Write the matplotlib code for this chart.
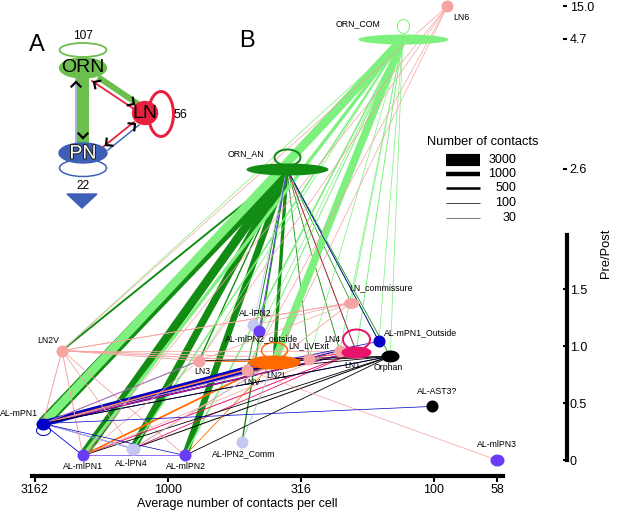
import numpy as np
import matplotlib
matplotlib.use('Agg')
import matplotlib.pyplot as plt
from matplotlib.path import Path
from matplotlib.patches import Ellipse, Polygon
import matplotlib.patheffects as pe

plt.rcParams['font.family'] = ['Liberation Sans', 'DejaVu Sans']

PT = 72 / 100.0   # points per pixel at dpi 100

# ---------------- panel B data ----------------
names = ['ORN_COM', 'LN6', 'ORN_AN', 'LN_commissure', 'AL-lPN2', 'AL-mlPN2_outside',
         'LN2L', 'LN_LVExit', 'LN4', 'LN1', 'AL-mPN1_Outside', 'Orphan', 'LNV', 'LN3',
         'LN2V', 'AL-mPN1', 'AL-mlPN1', 'AL-lPN4', 'AL-mlPN2', 'AL-lPN2_Comm',
         'AL-AST3?', 'AL-mlPN3']
contacts = [131, 89, 357, 205, 479, 455, 399, 295, 226, 196, 161, 146, 505, 765,
            2503, 2951, 2087, 1354, 863, 527, 102, 58]
prepost = [4.7, 15.0, 2.6, 1.38, 1.18, 1.13, 0.86, 0.89, 0.96, 0.95, 1.04, 0.91,
           0.79, 0.87, 0.96, 0.32, 0.04, 0.10, 0.04, 0.16, 0.47, 0.0]

# connections: source, target, number of contacts
edge_src = ['ORN_COM'] * 17 + ['ORN_AN'] * 15 + ['LN2V'] * 9 + ['LN3'] * 3 + \
           ['LN_commissure'] * 4 + ['LN_LVExit'] * 2 + ['LN4'] * 2 + ['LNV'] * 2 + \
           ['LN6'] * 5 + ['LN2L'] * 7 + ['LN1'] * 5 + ['AL-mPN1'] * 9 + \
           ['AL-mPN1_Outside'] * 2 + ['Orphan'] * 7 + \
           ['AL-lPN2', 'AL-mlPN2_outside', 'AL-mlPN1', 'AL-lPN4', 'AL-lPN4', 'AL-lPN2_Comm']
edge_dst = ['AL-mPN1', 'AL-mlPN1', 'LN2L', 'LN3', 'AL-lPN4', 'AL-mlPN2', 'LNV', 'LN1',
            'LN4', 'LN_commissure', 'AL-mPN1_Outside', 'Orphan', 'LN_LVExit', 'AL-lPN2',
            'AL-lPN2_Comm', 'LN2V', 'AL-mlPN2_outside',
            'AL-mPN1', 'AL-mlPN1', 'AL-lPN4', 'AL-mlPN2', 'LN2L', 'LN3', 'LNV', 'LN2V',
            'AL-lPN2_Comm', 'LN1', 'LN4', 'AL-mPN1_Outside', 'Orphan', 'LN_commissure',
            'LN_LVExit',
            'AL-mPN1', 'AL-mlPN1', 'AL-lPN4', 'AL-mlPN2', 'LN3', 'LN2L', 'LN_commissure',
            'LN_LVExit', 'LN4',
            'AL-mlPN1', 'LN2L', 'AL-mPN1',
            'LN2V', 'LN2L', 'AL-lPN2', 'LN3',
            'AL-mPN1', 'LN2L',
            'AL-mlPN1', 'LN2L',
            'AL-mlPN3', 'AL-mPN1',
            'LN2L', 'LN3', 'AL-mlPN1', 'LN2V', 'LNV',
            'AL-mlPN1', 'AL-mPN1', 'AL-lPN4', 'AL-mlPN2', 'LN_LVExit', 'LN1', 'LN3',
            'AL-mlPN1', 'AL-mPN1', 'AL-lPN4', 'LN2L', 'ORN_AN',
            'LN2L', 'LN1', 'LN4', 'Orphan', 'AL-AST3?', 'AL-mlPN1', 'AL-lPN4', 'AL-mlPN2', 'LN3',
            'ORN_AN', 'LN2L',
            'AL-mPN1', 'AL-mlPN1', 'AL-lPN4', 'AL-mlPN2', 'LNV', 'LN2L', 'LN3',
            'ORN_AN', 'ORN_AN', 'AL-mlPN2', 'AL-mPN1', 'LN2L', 'LN2L']
edge_n = [2100, 700, 1800, 30, 250, 250, 100, 100, 30, 30, 30, 30, 30, 60, 30, 30, 30,
          3000, 2100, 1700, 1500, 700, 200, 100, 350, 200, 60, 60, 60, 60, 30, 60,
          100, 100, 60, 60, 60, 100, 30, 60, 30,
          30, 60, 30,
          60, 60, 30, 30,
          60, 100,
          30, 100,
          30, 60,
          30, 30, 30, 30, 30,
          300, 200, 60, 60, 100, 100, 60,
          100, 100, 60, 60, 30,
          1500, 300, 100, 60, 30, 60, 60, 30, 60,
          30, 30,
          60, 60, 100, 60, 60, 60, 30,
          60, 60, 30, 60, 60, 30]

# self connections
loop_nodes = ['ORN_COM', 'ORN_AN', 'LN2L', 'LN1', 'AL-mPN1']

# panel A summary numbers (self contacts)
A_self = {'ORN': 107, 'LN': 56, 'PN': 22}

# axis ticks
x_ticks = [3162, 1000, 316, 100, 58]
y_ticks = [0, 0.5, 1.0, 1.5, 2.6, 4.7, 15.0]
y_ticklabels = ['0', '0.5', '1.0', '1.5', '2.6', '4.7', '15.0']
legend_n = [3000, 1000, 500, 100, 30]

# ---------------- styles ----------------
GL, GD = '#7df07d', '#128c12'
SAL, ORA, CRI = '#f6a3a3', '#ff6a00', '#e8136a'
BLU, PUR, LAV = '#0000c8', '#6a3cf5', '#c6c6f2'
node_col = {'ORN_COM': GL, 'LN6': SAL, 'ORN_AN': GD, 'LN_commissure': SAL, 'AL-lPN2': LAV,
            'AL-mlPN2_outside': PUR, 'LN2L': ORA, 'LN_LVExit': SAL, 'LN4': SAL,
            'LN1': CRI, 'AL-mPN1_Outside': BLU, 'Orphan': 'black', 'LNV': SAL,
            'LN3': SAL, 'LN2V': SAL, 'AL-mPN1': BLU, 'AL-mlPN1': PUR, 'AL-lPN4': LAV,
            'AL-mlPN2': PUR, 'AL-lPN2_Comm': LAV, 'AL-AST3?': 'black', 'AL-mlPN3': PUR}
# node size (px) and label offset (px, y down)
node_wh = {'ORN_COM': (90, 10), 'ORN_AN': (82, 12), 'LN2L': (52, 14), 'LN1': (30, 12),
           'Orphan': (18, 12), 'LN_commissure': (15, 11), 'AL-mPN1': (14, 12),
           'AL-lPN4': (14, 12), 'AL-mlPN3': (14, 12)}
lab_off = {'ORN_COM': (-45, -15), 'LN6': (14, 11), 'ORN_AN': (-41, -15),
           'LN_commissure': (30, -15), 'AL-lPN2': (2, -12), 'AL-mlPN2_outside': (3, 8),
           'LN2L': (3, 14), 'LN_LVExit': (0, -13), 'LN4': (-7, -11), 'LN1': (-4, 14),
           'AL-mPN1_Outside': (42, -9), 'Orphan': (-2, 11), 'LNV': (5, 13),
           'LN3': (3, 11), 'LN2V': (-14, -10), 'AL-mPN1': (-24, -10),
           'AL-mlPN1': (0, 11), 'AL-lPN4': (-2, 15), 'AL-mlPN2': (1, 11),
           'AL-lPN2_Comm': (2, 12), 'AL-AST3?': (5, -15), 'AL-mlPN3': (0, -16)}
loop_style = {'ORN_COM': (12, 14, 13, 1.0), 'ORN_AN': (26, 16, 12, 2.0),
              'LN2L': (26, 16, 12, 1.5), 'LN1': (27, 20, 13, 2.0), 'AL-mPN1': (14, 10, -6, 1.0)}
draw_rank = {'ORN_AN': 0, 'ORN_COM': 1}


def ell_marker(w, h, dy=0.0):
    t = np.linspace(0, 2 * np.pi, 90)
    v = np.column_stack([w / 2 * np.cos(t), dy + h / 2 * np.sin(t)])
    return Path(v), 2 * np.abs(v).max() * PT


def edge_lw(n):
    return (0.6 + n / 260.0) * PT


# broken pre/post scale
r_in = [-1, 2, 2.6, 4.7, 15, 30]
r_out = [-1, 2, 2.553, 3.693, 3.982, 4.1]


def fwd(r):
    return np.interp(r, r_in, r_out)


def inv(v):
    return np.interp(v, r_out, r_in)


fig = plt.figure(figsize=(6.17, 5.12), dpi=100)
ax = fig.add_axes([32 / 617, 36 / 512, 535 / 617, 476 / 512])
ax.set_yscale('function', functions=(fwd, inv))
ax.set_xlim(3.511, 1.5)
ax.set_ylim(-0.14, 21.7)

pos = {nm: (np.log10(c), r) for nm, c, r in zip(names, contacts, prepost)}

# edges: dark ORN first, light ORN over them, then the rest; thick first in each group
order = sorted(range(len(edge_n)), key=lambda i: (draw_rank.get(edge_src[i], 2), -edge_n[i]))
for i in order:
    s, d, n = edge_src[i], edge_dst[i], edge_n[i]
    (x1, y1), (x2, y2) = pos[s], pos[d]
    ax.plot([x1, x2], [y1, y2], color=node_col[s], lw=edge_lw(n),
            solid_capstyle='butt', zorder=1)

# self loops
for nm in loop_nodes:
    w, h, dy, lw = loop_style[nm]
    mk, ms = ell_marker(w, h, dy)
    ax.plot(*pos[nm], marker=mk, markersize=ms, markerfacecolor='none',
            markeredgecolor=node_col[nm], markeredgewidth=lw * PT, zorder=2)

# nodes
for nm in names:
    w, h = node_wh.get(nm, (12, 12))
    mk, ms = ell_marker(w, h)
    ax.plot(*pos[nm], marker=mk, markersize=ms, markerfacecolor=node_col[nm],
            markeredgewidth=0, zorder=3)
    dx, dy = lab_off[nm]
    ax.annotate(nm, pos[nm], xytext=(dx * PT, -dy * PT), textcoords='offset points',
                ha='center', va='center', fontsize=6.3, zorder=4)

# axes
for sp in ['left', 'top']:
    ax.spines[sp].set_visible(False)
ax.spines['bottom'].set_linewidth(3)
ax.spines['right'].set_linewidth(3)
ax.spines['bottom'].set_bounds(3.511, 1.741)
ax.spines['right'].set_bounds(0, 1.97)
ax.set_xticks(np.log10(x_ticks))
ax.set_xticklabels([str(t) for t in x_ticks])
ax.tick_params(axis='x', direction='out', length=4, width=1.5, labelsize=9, pad=2)
ax.yaxis.tick_right()
ax.set_yticks(y_ticks)
ax.set_yticklabels(y_ticklabels)
ax.tick_params(axis='y', direction='in', length=3, width=1.5, labelsize=9, pad=2)
ax.set_facecolor('none')

fig.text(237 / 617, 1 - 504 / 512, 'Average number of contacts per cell',
         ha='center', va='center', fontsize=9)
fig.text(606 / 617, 1 - 253 / 512, 'Pre/Post', rotation=90, ha='center', va='center',
         fontsize=9.3)

# ---------------- overlay in pixel units: panel A + legend ----------------
ov = fig.add_axes([0, 0, 1, 1], zorder=5)
ov.set_xlim(0, 617)
ov.set_ylim(512, 0)
ov.axis('off')
ov.patch.set_alpha(0)

ov.text(37, 45, 'A', fontsize=17, ha='center', va='center')
ov.text(247, 41, 'B', fontsize=17, ha='center', va='center')

AG, AR, AB = '#6cbf4c', '#e8213f', '#3d5fb5'


def chevron(x, y, ang, size=4.5):
    d = np.array([np.cos(ang), np.sin(ang)])
    n = np.array([-d[1], d[0]])
    tip = np.array([x, y])
    p = np.array([tip - size * d + size * n, tip, tip - size * d - size * n])
    ov.plot(p[:, 0], p[:, 1], color='k', lw=1.6, solid_joinstyle='miter', zorder=6)


# connections between classes
ov.plot([83, 83], [76, 145], color=AG, lw=12 * PT, solid_capstyle='butt', zorder=2)
ov.plot([76, 76], [78, 143], color='#a9b4d8', lw=2 * PT, zorder=2)
ov.plot([98, 138], [77, 104], color=AG, lw=6 * PT, solid_capstyle='butt', zorder=2)
ov.plot([92, 134], [81, 109], color=AR, lw=1.8 * PT, zorder=2)
ov.plot([134, 103], [122, 147], color=AR, lw=1.8 * PT, zorder=2)
ov.plot([139, 108], [125, 150], color=AB, lw=1.4 * PT, zorder=2)
chevron(76, 82, -np.pi / 2)
chevron(83, 138, np.pi / 2)
chevron(94, 82, np.arctan2(-28, -42))
chevron(134, 104, np.arctan2(28, 42))
chevron(135, 124, np.arctan2(-24, 30))
chevron(106, 145, np.arctan2(24, -30))

# self loops
ov.add_patch(Ellipse((83, 50), 47, 14, fill=False, ec=AG, lw=1.8 * PT, zorder=1))
ov.add_patch(Ellipse((161, 114), 25, 45, fill=False, ec=AR, lw=3 * PT, zorder=1))
ov.add_patch(Ellipse((83, 168), 47, 17, fill=False, ec=AB, lw=1.5 * PT, zorder=1))
# class nodes
ov.add_patch(Ellipse((83, 68), 47, 20, color=AG, zorder=3))
ov.add_patch(Ellipse((145, 113), 25, 23, color=AR, zorder=3))
ov.add_patch(Ellipse((83, 153), 48, 20, color=AB, zorder=3))
ov.text(83, 68, 'ORN', fontsize=14, ha='center', va='center', zorder=4)
ov.text(145, 114, 'LN', fontsize=14, ha='center', va='center', zorder=4)
ov.text(83, 154, 'PN', fontsize=14, ha='center', va='center', color='white', zorder=4,
        path_effects=[pe.withStroke(linewidth=1.5, foreground='#222222')])
ov.text(83, 36, str(A_self['ORN']), fontsize=8.6, ha='center', va='center')
ov.text(180, 115, str(A_self['LN']), fontsize=9, ha='center', va='center')
ov.text(83, 186, str(A_self['PN']), fontsize=8.6, ha='center', va='center')
ov.add_patch(Polygon([[67, 194], [97, 194], [82, 208]], color=AB, zorder=3))

# legend for edge widths
ov.text(427, 142, 'Number of contacts', fontsize=9.3, ha='left', va='center')
for k, n in enumerate(legend_n):
    yy = [160, 174, 188, 203, 218][k]
    ov.plot([446, 480], [yy, yy], color='black' if n >= 500 else '#444444',
            lw=edge_lw(n), solid_capstyle='butt')
    ov.text(516, yy, str(n), fontsize=9, ha='right', va='center')

fig.savefig('out.png', dpi=100)
